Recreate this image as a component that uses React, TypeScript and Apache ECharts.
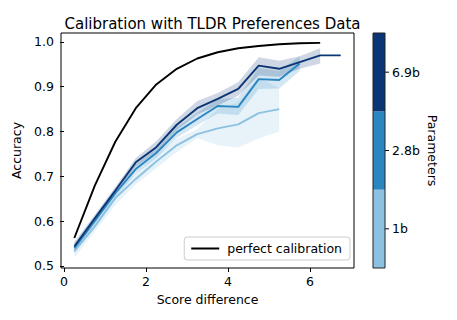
import React, { useEffect, useRef } from "react";
import * as echarts from "echarts";

// ---- data ----
const PERFECT_X = [0.25, 0.75, 1.25, 1.75, 2.25, 2.75, 3.25, 3.75, 4.25, 4.75, 5.25, 5.75, 6.25];
const PERFECT_Y = [0.562, 0.679, 0.777, 0.852, 0.905, 0.940, 0.963, 0.977, 0.986, 0.991, 0.995, 0.997, 0.998];

const X_1B = [0.25, 0.75, 1.25, 1.75, 2.25, 2.75, 3.25, 3.75, 4.25, 4.75, 5.25];
const MEAN_1B = [0.532, 0.588, 0.651, 0.694, 0.733, 0.769, 0.794, 0.807, 0.816, 0.841, 0.850];
const LO_1B = [0.518, 0.576, 0.636, 0.682, 0.718, 0.754, 0.785, 0.769, 0.764, 0.785, 0.800];
const HI_1B = [0.546, 0.600, 0.666, 0.706, 0.748, 0.784, 0.805, 0.850, 0.865, 0.920, 0.897];

const X_28B = [0.25, 0.75, 1.25, 1.75, 2.25, 2.75, 3.25, 3.75, 4.25, 4.75, 5.25, 5.75];
const MEAN_28B = [0.539, 0.600, 0.662, 0.716, 0.752, 0.798, 0.828, 0.857, 0.855, 0.917, 0.915, 0.952];
const LO_28B = [0.528, 0.590, 0.652, 0.706, 0.740, 0.786, 0.814, 0.840, 0.837, 0.895, 0.896, 0.935];
const HI_28B = [0.550, 0.610, 0.672, 0.726, 0.764, 0.810, 0.842, 0.872, 0.876, 0.942, 0.935, 0.968];

const X_69B = [0.25, 0.75, 1.25, 1.75, 2.25, 2.75, 3.25, 3.75, 4.25, 4.75, 5.25, 5.75, 6.25, 6.75];
const MEAN_69B = [0.543, 0.606, 0.668, 0.731, 0.765, 0.815, 0.852, 0.873, 0.895, 0.947, 0.940, 0.955, 0.970, 0.970];
const BAND_X_69B = [0.25, 0.75, 1.25, 1.75, 2.25, 2.75, 3.25, 3.75, 4.25, 4.75, 5.25, 5.75, 6.25];
const LO_69B = [0.533, 0.598, 0.660, 0.721, 0.753, 0.803, 0.838, 0.858, 0.880, 0.925, 0.922, 0.940, 0.952];
const HI_69B = [0.553, 0.614, 0.676, 0.741, 0.778, 0.828, 0.868, 0.886, 0.910, 0.966, 0.958, 0.968, 0.986];

const PARAM_LABELS = ["1b", "2.8b", "6.9b"];
const PARAM_COLORS = ["#8cc1e2", "#2a86c1", "#0b3675"];

const X_TICKS = [0, 2, 4, 6];
const Y_TICKS = [0.5, 0.6, 0.7, 0.8, 0.9, 1.0];

// ---- layout ----
const W = 457;
const H = 320;
const GL = 61;
const GR = 354;
const GT = 33;
const GB = 268;
const CB_L = 373;
const CB_R = 385;
const FONT = "DejaVu Sans";
const FS = 12.5;

const pairs = (xs: number[], ys: number[]) => xs.map((x, i) => [x, ys[i]]);

function bandSeries(xs: number[], lo: number[], hi: number[], color: string, z: number) {
  return {
    type: "custom",
    silent: true,
    z,
    data: xs.map((x, i) => [x, lo[i], hi[i]]),
    encode: { x: 0, y: [1, 2] },
    renderItem: (params: any, api: any) => {
      if (params.dataIndex !== 0) return null;
      const pts: number[][] = [];
      for (let i = 0; i < xs.length; i++) pts.push(api.coord([xs[i], lo[i]]));
      for (let i = xs.length - 1; i >= 0; i--) pts.push(api.coord([xs[i], hi[i]]));
      return {
        type: "polygon",
        shape: { points: pts },
        style: { fill: color, opacity: 0.2, stroke: null },
      };
    },
  };
}

function lineSeries(name: string, data: number[][], color: string, z: number, width = 1.9) {
  return {
    name,
    type: "line",
    data,
    z,
    showSymbol: false,
    symbol: "none",
    lineStyle: { color, width },
    itemStyle: { color },
  };
}

export default function App() {
  const ref = useRef<HTMLDivElement>(null);
  useEffect(() => {
    if (!ref.current) return;
    const chart = echarts.init(ref.current, undefined, { renderer: "svg" });
    const segH = (GB - GT) / PARAM_LABELS.length;
    const cbGraphics: any[] = [];
    PARAM_LABELS.forEach((lab, i) => {
      const top = GB - (i + 1) * segH;
      cbGraphics.push({
        type: "rect",
        shape: { x: CB_L, y: top, width: CB_R - CB_L, height: segH },
        style: { fill: PARAM_COLORS[i] },
      });
      cbGraphics.push({
        type: "line",
        shape: { x1: CB_R, y1: top + segH / 2, x2: CB_R + 4, y2: top + segH / 2 },
        style: { stroke: "#000", lineWidth: 1 },
      });
      cbGraphics.push({
        type: "text",
        x: CB_R + 7,
        y: top + segH / 2,
        style: {
          text: lab,
          font: `${FS}px ${FONT}`,
          fill: "#000",
          textAlign: "left",
          textVerticalAlign: "middle",
        },
      });
    });
    cbGraphics.push({
      type: "rect",
      shape: { x: CB_L, y: GT, width: CB_R - CB_L, height: GB - GT },
      style: { fill: "none", stroke: "#222", lineWidth: 1 },
    });
    cbGraphics.push({
      type: "text",
      x: 432,
      y: (GT + GB) / 2,
      rotation: -Math.PI / 2,
      style: {
        text: "Parameters",
        font: `${FS}px ${FONT}`,
        fill: "#000",
        textAlign: "center",
        textVerticalAlign: "middle",
      },
    });

    chart.setOption({
      animation: false,
      backgroundColor: "#fff",
      textStyle: { fontFamily: FONT },
      title: {
        text: "Calibration with TLDR Preferences Data",
        left: (GL + GR) / 2,
        top: 11,
        textAlign: "center",
        textStyle: { fontFamily: FONT, fontSize: 15, fontWeight: "normal", color: "#000" },
      },
      grid: {
        left: GL,
        right: W - GR,
        top: GT,
        bottom: H - GB,
        show: true,
        borderColor: "#000",
        borderWidth: 1,
        backgroundColor: "transparent",
      },
      legend: {
        data: [{ name: "perfect calibration", icon: "rect" }],
        right: W - 350,
        bottom: H - 260,
        itemWidth: 28,
        itemHeight: 2,
        padding: [5, 8, 5, 7],
        borderColor: "#cccccc",
        borderWidth: 1,
        borderRadius: 3,
        backgroundColor: "rgba(255,255,255,0.8)",
        textStyle: { fontFamily: FONT, fontSize: FS, color: "#000", padding: [0, 0, 0, 3] },
      },
      xAxis: {
        type: "value",
        min: -0.075,
        max: 7.075,
        name: "Score difference",
        nameLocation: "middle",
        nameGap: 23,
        nameTextStyle: { fontFamily: FONT, fontSize: FS, color: "#000" },
        splitLine: { show: false },
        axisLine: { show: false },
        axisTick: { show: true, length: 4, customValues: X_TICKS, lineStyle: { color: "#000" } },
        axisLabel: {
          customValues: X_TICKS,
          fontFamily: FONT,
          fontSize: FS,
          color: "#000",
          margin: 7,
          formatter: (v: number) => String(v),
        },
      },
      yAxis: {
        type: "value",
        min: 0.495,
        max: 1.02,
        name: "Accuracy",
        nameLocation: "middle",
        nameGap: 35,
        nameTextStyle: { fontFamily: FONT, fontSize: FS, color: "#000" },
        splitLine: { show: false },
        axisLine: { show: false },
        axisTick: { show: true, length: 4, customValues: Y_TICKS, lineStyle: { color: "#000" } },
        axisLabel: {
          customValues: Y_TICKS,
          fontFamily: FONT,
          fontSize: FS,
          color: "#000",
          margin: 7,
          formatter: (v: number) => v.toFixed(1),
        },
      },
      graphic: cbGraphics,
      series: [
        lineSeries("perfect calibration", pairs(PERFECT_X, PERFECT_Y), "#000", 10, 1.9),
        bandSeries(X_1B, LO_1B, HI_1B, PARAM_COLORS[0], 2),
        bandSeries(X_28B, LO_28B, HI_28B, PARAM_COLORS[1], 2),
        bandSeries(BAND_X_69B, LO_69B, HI_69B, PARAM_COLORS[2], 2),
        lineSeries("1b", pairs(X_1B, MEAN_1B), PARAM_COLORS[0], 5),
        lineSeries("2.8b", pairs(X_28B, MEAN_28B), PARAM_COLORS[1], 6),
        lineSeries("6.9b", pairs(X_69B, MEAN_69B), PARAM_COLORS[2], 7),
      ],
    });
    return () => chart.dispose();
  }, []);
  return (
    <div
      ref={ref}
      style={{ position: "absolute", left: 0, top: 0, width: W, height: H }}
    />
  );
}
